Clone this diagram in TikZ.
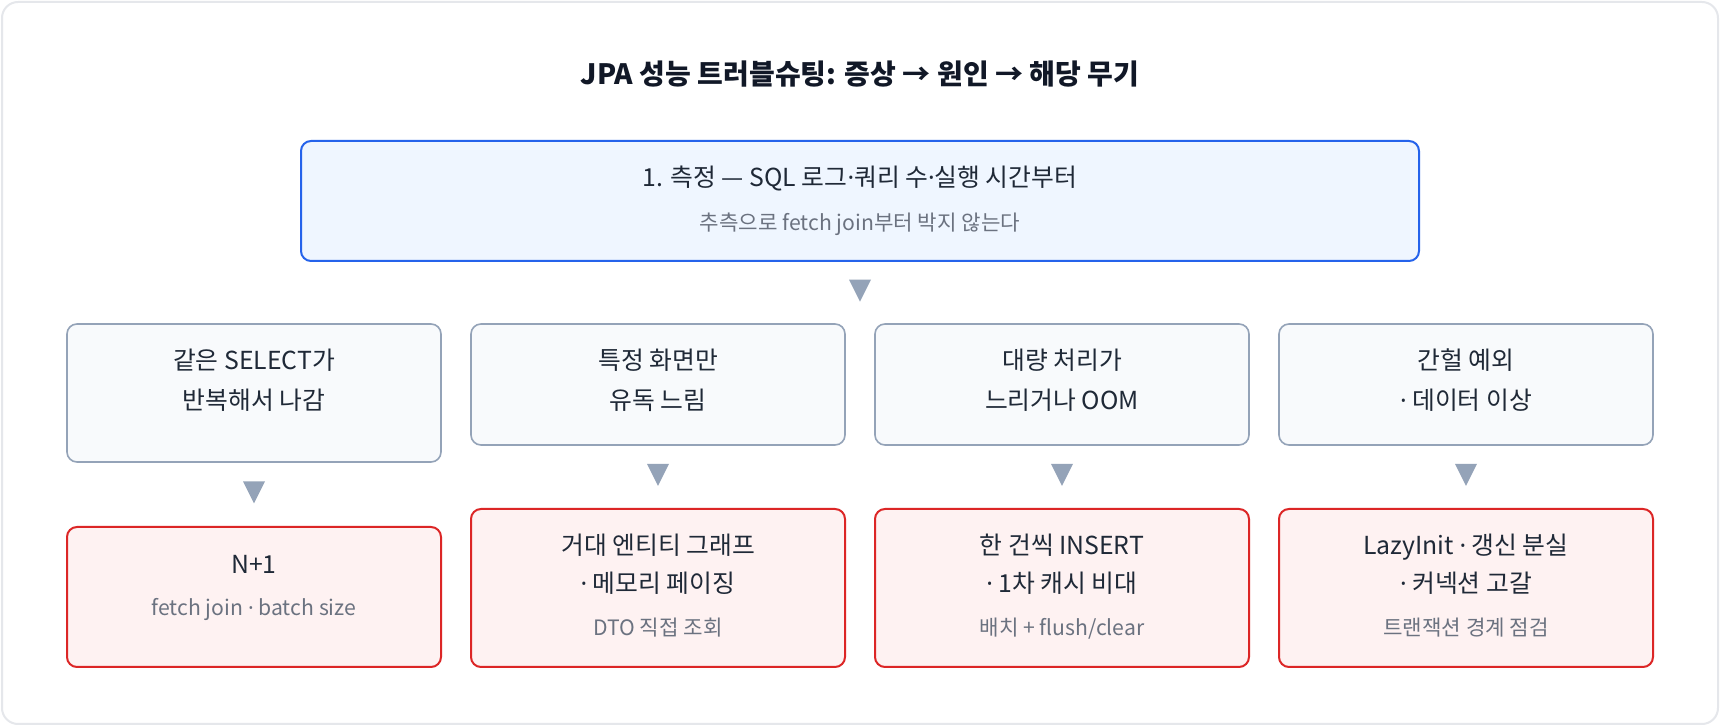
\documentclass[tikz,border=0pt]{standalone}
\usepackage{fontspec}
\setmainfont{Noto Sans CJK KR}
\newfontfamily\latinf{Noto Sans}
\newcommand{\md}{{\latinf ·}}
\usetikzlibrary{calc}
\definecolor{framec}{HTML}{E5E7EB}
\definecolor{titlec}{HTML}{111827}
\definecolor{textc}{HTML}{1F2937}
\definecolor{subc}{HTML}{6B7280}
\definecolor{topfill}{HTML}{EFF6FF}
\definecolor{topdraw}{HTML}{2563EB}
\definecolor{symfill}{HTML}{F8FAFC}
\definecolor{symdraw}{HTML}{94A3B8}
\definecolor{causefill}{HTML}{FEF2F2}
\definecolor{causedraw}{HTML}{DC2626}
\tikzset{
  frame/.style={draw=framec, fill=white, line width=1pt, rounded corners=8pt},
  topbox/.style={draw=topdraw, fill=topfill, line width=1pt, rounded corners=5pt, minimum width=559pt, minimum height=60pt, inner sep=0pt},
  symbox/.style={draw=symdraw, fill=symfill, line width=0.8pt, rounded corners=5pt, minimum width=187pt, inner sep=0pt},
  causebox/.style={draw=causedraw, fill=causefill, line width=1pt, rounded corners=5pt, minimum width=187pt, inner sep=0pt},
  titletxt/.style={anchor=base, inner sep=0pt, text=titlec, font=\fontsize{14pt}{16pt}\selectfont\bfseries},
  maintxt/.style={anchor=base, inner sep=0pt, text=textc, font=\fontsize{12.4pt}{14pt}\selectfont},
  subtxt/.style={anchor=base, inner sep=0pt, text=subc, font=\fontsize{10.6pt}{12pt}\selectfont},
  tri/.style={fill=symdraw}
}
\newcommand{\downtri}[1]{\fill[tri] ($(#1)+(-11,-13)$) -- ($(#1)+(11,-13)$) -- ($(#1)+(0,9)$) -- cycle;}
\begin{document}
\begin{tikzpicture}[x=0.5pt,y=-0.5pt]
\useasboundingbox (0,0) rectangle (1720,726);
\draw[frame] (2,2) rectangle (1718,724);
\node[titletxt] (title) at (860,85) {JPA 성능 트러블슈팅: 증상 → 원인 → 해당 무기};
% top box
\node[topbox] (top) at (860,201) {};
\node[maintxt] (top1) at (860,187) {1. 측정 — SQL 로그\md 쿼리 수\md 실행 시간부터};
\node[subtxt] (top2) at (860,231) {추측으로 fetch join부터 박지 않는다};
% symptom boxes
\node[symbox, minimum height=69pt] (s1) at (254,393) {};
\node[symbox, minimum height=60.5pt] (s2) at (658,384.5) {};
\node[symbox, minimum height=60.5pt] (s3) at (1062,384.5) {};
\node[symbox, minimum height=60.5pt] (s4) at (1466,384.5) {};
\node[maintxt] (s1a) at (254,370) {같은 SELECT가};
\node[maintxt] (s1b) at (254,410) {반복해서 나감};
\node[maintxt] (s2a) at (658,370) {특정 화면만};
\node[maintxt] (s2b) at (658,410) {유독 느림};
\node[maintxt] (s3a) at (1062,370) {대량 처리가};
\node[maintxt] (s3b) at (1062,410) {느리거나 OOM};
\node[maintxt] (s4a) at (1466,370) {간헐 예외};
\node[maintxt] (s4b) at (1466,410) {\md{} 데이터 이상};
% cause boxes
\node[causebox, minimum height=70pt] (c1) at (254,597) {};
\node[causebox, minimum height=79pt] (c2) at (658,588) {};
\node[causebox, minimum height=79pt] (c3) at (1062,588) {};
\node[causebox, minimum height=79pt] (c4) at (1466,588) {};
\node[maintxt] (c1a) at (254,574) {N+1};
\node[subtxt] (c1b) at (254,616) {fetch join \md{} batch size};
\node[maintxt] (c2a) at (658,555) {거대 엔티티 그래프};
\node[maintxt] (c2b) at (658,593) {\md{} 메모리 페이징};
\node[subtxt] (c2c) at (658,636) {DTO 직접 조회};
\node[maintxt] (c3a) at (1062,555) {한 건씩 INSERT};
\node[maintxt] (c3b) at (1062,593) {\md{} 1차 캐시 비대};
\node[subtxt] (c3c) at (1062,636) {배치 + flush/clear};
\node[maintxt] (c4a) at (1466,555) {LazyInit \md{} 갱신 분실};
\node[maintxt] (c4b) at (1466,593) {\md{} 커넥션 고갈};
\node[subtxt] (c4c) at (1466,636) {트랜잭션 경계 점검};
% arrows
\coordinate (m0) at ($(top.south)!0.5!(s2.north -| top.south)$);
\coordinate (m1) at ($(s1.south)!0.5!(c1.north)$);
\coordinate (m2) at ($(s2.south)!0.5!(c2.north)$);
\coordinate (m3) at ($(s3.south)!0.5!(c3.north)$);
\coordinate (m4) at ($(s4.south)!0.5!(c4.north)$);
\downtri{m0}
\downtri{m1}
\downtri{m2}
\downtri{m3}
\downtri{m4}
\end{tikzpicture}
\end{document}
